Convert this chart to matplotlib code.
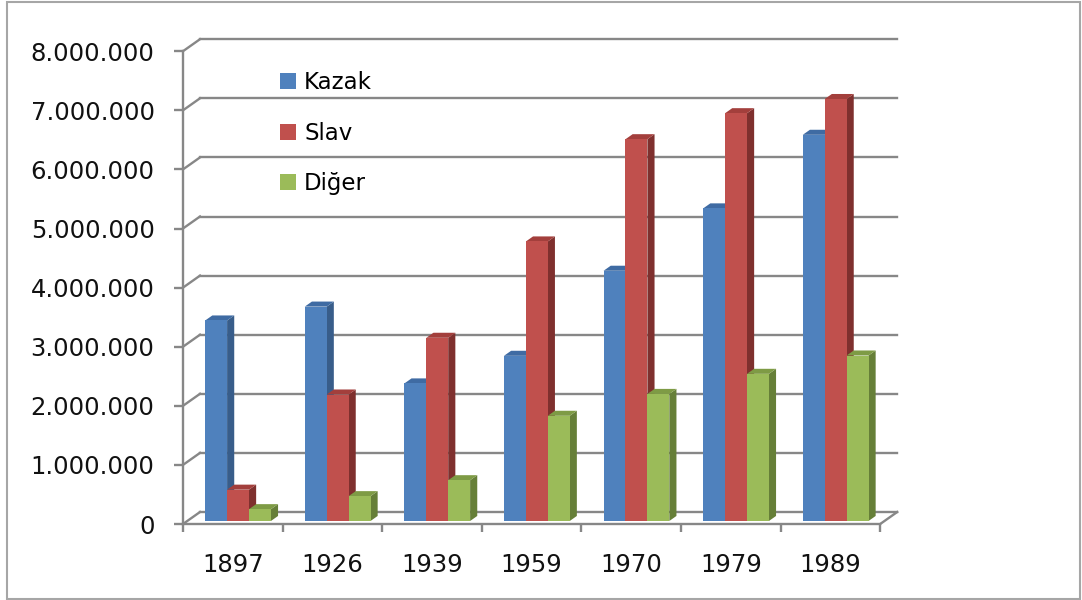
import numpy as np
import matplotlib.pyplot as plt
from matplotlib.patches import Polygon, Patch, Rectangle

# data
years = ['1897', '1926', '1939', '1959', '1970', '1979', '1989']
kazak = [3392751, 3627612, 2327625, 2794966, 4234166, 5289349, 6534616]
slav = [530000, 2140000, 3100000, 4730000, 6460000, 6900000, 7140000]
diger = [200000, 420000, 690000, 1780000, 2150000, 2490000, 2800000]
series_names = ['Kazak', 'Slav', 'Diğer']
y_ticks = np.arange(0, 8000001, 1000000)

front_cols = ['#4F81BD', '#C0504D', '#9BBB59']
side_cols = ['#385D8A', '#7F302E', '#667F38']
top_cols = ['#3F6BA3', '#A33F3C', '#7E9B45']
grid_col = '#878787'

W, H = 1082, 600
fig = plt.figure(figsize=(W / 100, H / 100), dpi=100)
# axes placed so that one category is ~100 px and 1M is ~59 px
ax = fig.add_axes([183 / W, (H - 524) / H, (900 - 183) / W, (524 - 38) / H])
ax.set_xlim(0, 717 / 99.6)
ax.set_ylim(0, 486 / 59.1 * 1e6)

# oblique depth offsets (full floor depth) in data units
dx = 17 / 99.6
dy = 12 / 59.1 * 1e6
face_depth = 0.25   # where the bar front faces sit
bar_depth = 0.42    # how deep a bar is
bar_w = 0.22
group_off = 0.18

n = len(years)

# back wall gridlines and left wall diagonals
for v in y_ticks:
    ax.plot([0, dx], [v, v + dy], color=grid_col, lw=1.7, clip_on=False, zorder=1)
    ax.plot([dx, n + dx], [v + dy, v + dy], color=grid_col, lw=1.7, clip_on=False, zorder=1)
# floor right edge
ax.plot([n, n + dx], [0, dy], color=grid_col, lw=1.7, clip_on=False, zorder=1)

# bars
all_vals = [kazak, slav, diger]
z = 3
for i in range(n):
    for j, vals in enumerate(all_vals):
        v = vals[i]
        x0 = i + face_depth * dx + group_off + j * bar_w
        x1 = x0 + bar_w
        b = face_depth * dy
        top = b + v
        ox, oy = bar_depth * dx, bar_depth * dy
        side = Polygon([(x1, b), (x1 + ox, b + oy), (x1 + ox, top + oy), (x1, top)],
                       closed=True, facecolor=side_cols[j], edgecolor='none', zorder=z)
        topf = Polygon([(x0, top), (x1, top), (x1 + ox, top + oy), (x0 + ox, top + oy)],
                       closed=True, facecolor=top_cols[j], edgecolor='none', zorder=z)
        ax.add_patch(side)
        ax.add_patch(topf)
        ax.bar(x0, v, width=bar_w, bottom=b, align='edge', color=front_cols[j],
               edgecolor='none', zorder=z + 0.5)
        z += 1

# axes styling
for s in ['top', 'right']:
    ax.spines[s].set_visible(False)
ax.spines['left'].set_bounds(0, 8e6)
ax.spines['bottom'].set_bounds(0, n)
for s in ['left', 'bottom']:
    ax.spines[s].set_color(grid_col)
    ax.spines[s].set_linewidth(1.7)
ax.patch.set_visible(False)

ax.set_yticks(y_ticks)
ax.set_yticklabels([f'{int(v):,}'.replace(',', '.') for v in y_ticks])
ax.tick_params(axis='y', length=6.5, width=1.7, color=grid_col, pad=14,
               labelsize=17.5, labelcolor='#111111')

ax.set_xticks(np.arange(0, n + 1))
ax.set_xticklabels([])
ax.set_xticks(np.arange(n) + 0.5, minor=True)
ax.set_xticklabels(years, minor=True)
ax.tick_params(axis='x', which='major', length=6, width=1.7, color=grid_col)
ax.tick_params(axis='x', which='minor', length=0, pad=21, labelsize=17.5,
               labelcolor='#111111')

handles = [Patch(facecolor=c, edgecolor='none') for c in front_cols]
ax.legend(handles, series_names, loc='upper left',
          bbox_to_anchor=(280 / W, 1 - 71 / H), bbox_transform=fig.transFigure,
          frameon=False, fontsize=16.5, handlelength=0.7, handleheight=0.7,
          handletextpad=0.35, labelspacing=1.21, borderpad=0, borderaxespad=0)

# outer chart border
fig.patches.append(Rectangle((7 / W, 1 / H), (1080 - 7) / W, (598 - 1) / H,
                             transform=fig.transFigure, fill=False,
                             edgecolor='#A6A6A6', lw=1.5))

fig.savefig('out.png', dpi=100)
